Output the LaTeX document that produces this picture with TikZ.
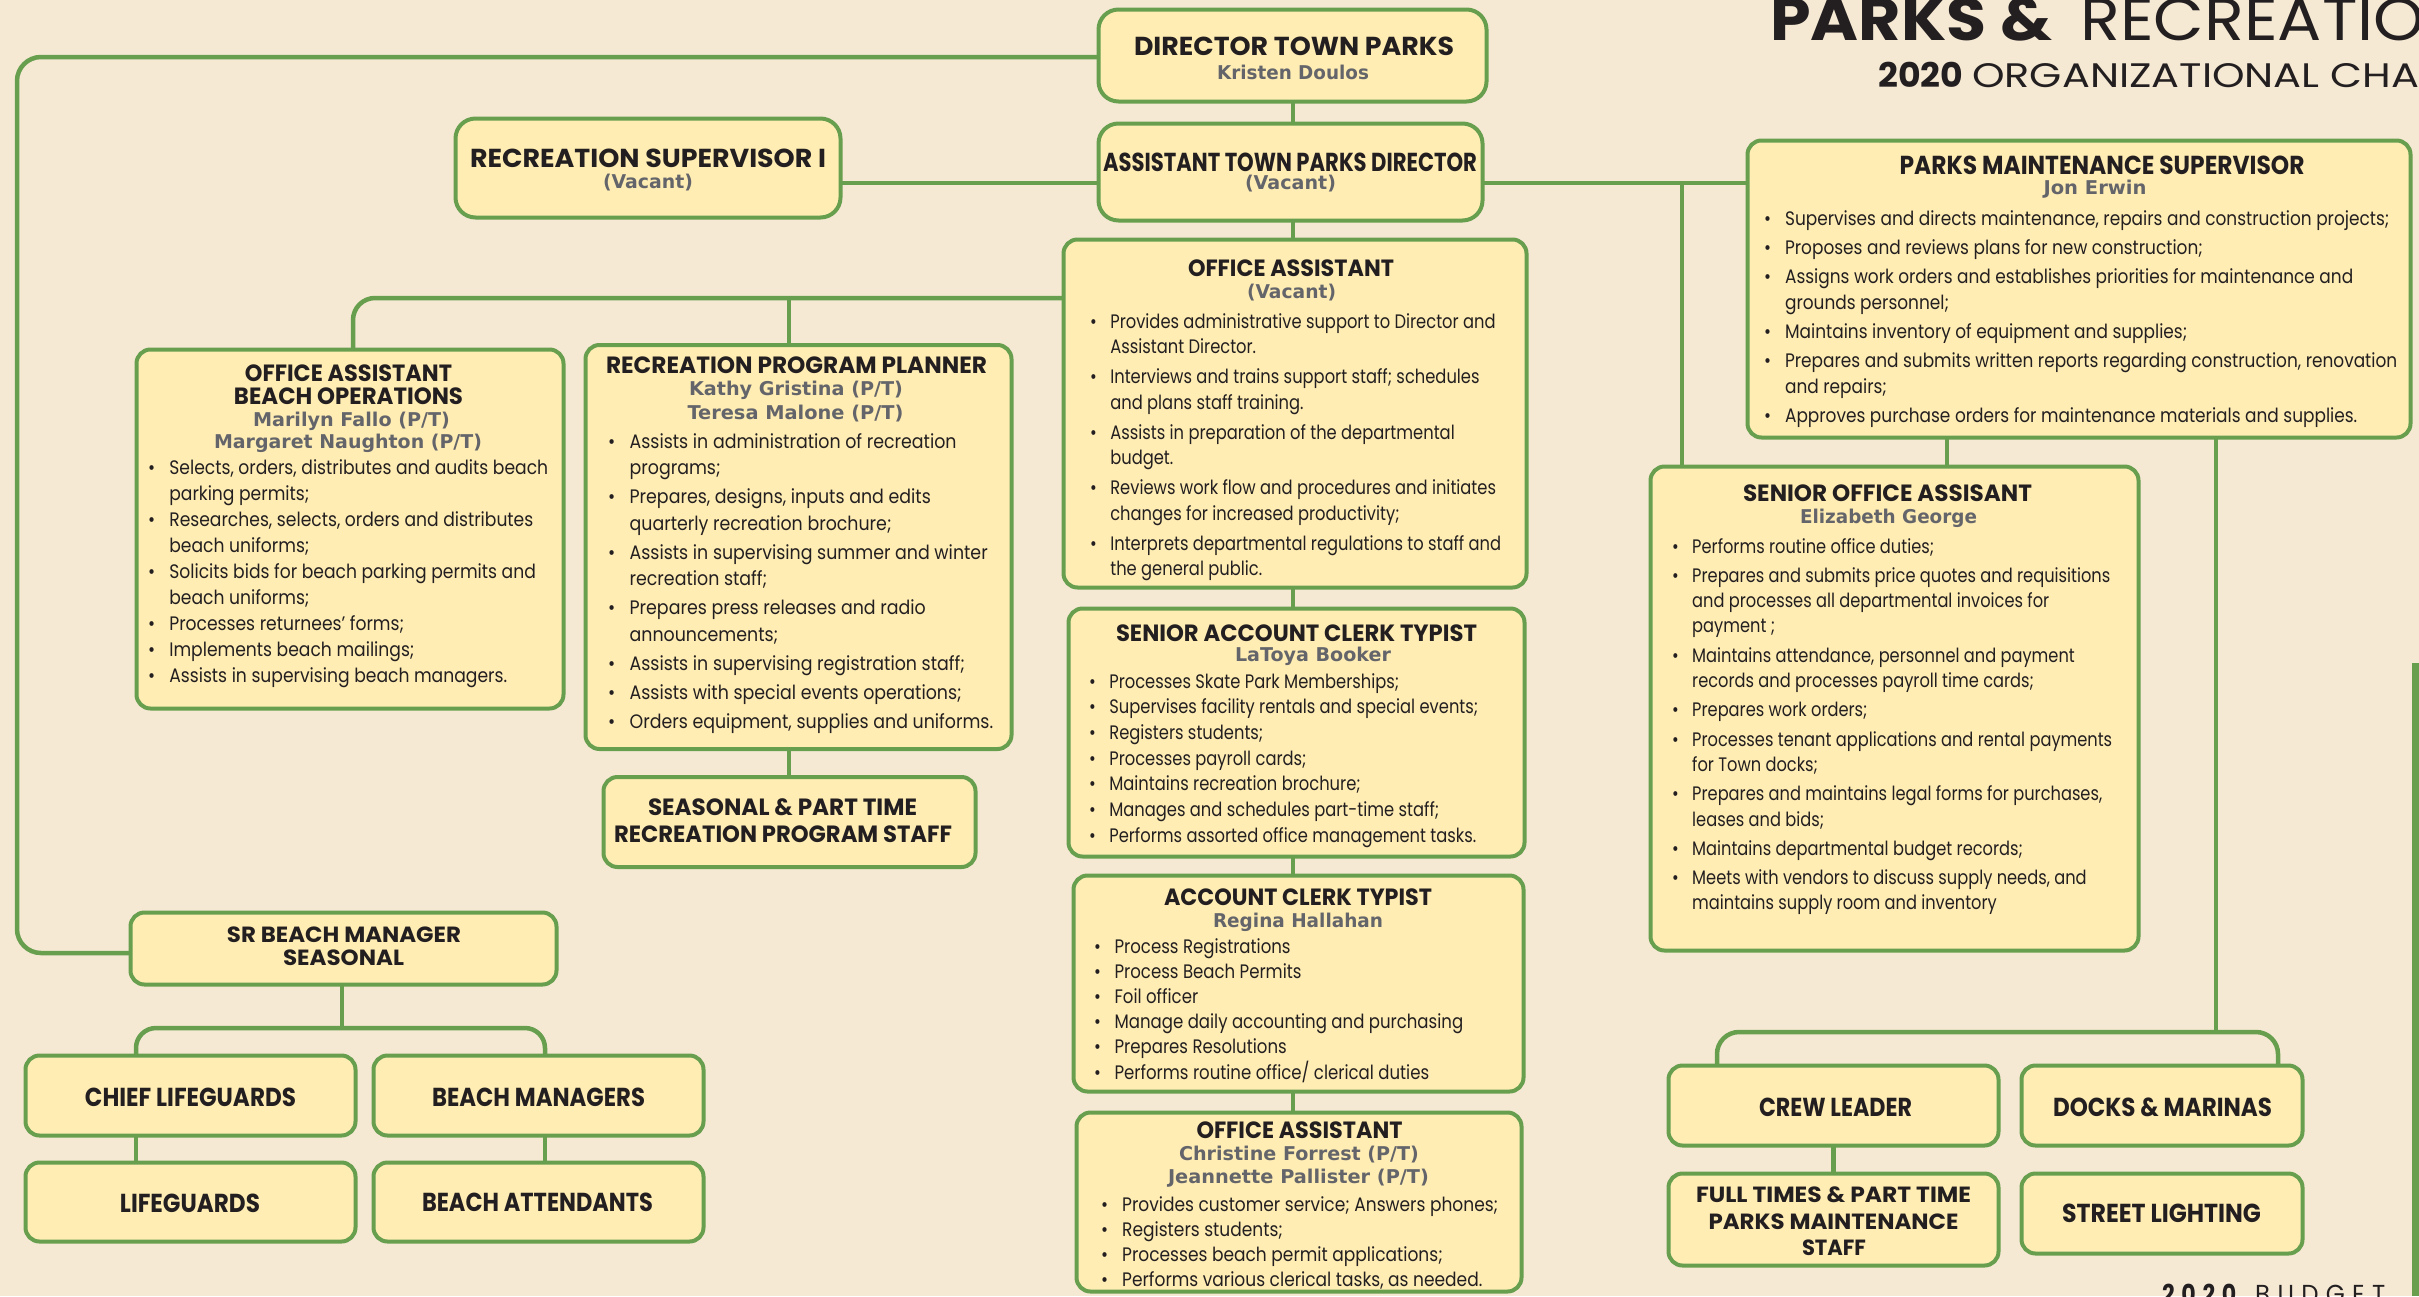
\documentclass[tikz,border=0pt]{standalone}
\usepackage{fontspec}
\usepackage{graphicx}
\setmainfont{Poppins}
\newfontfamily\bodyf{Poppins}
\newfontfamily\namef{DejaVu Sans}
\definecolor{bg}{HTML}{F5E9D4}
\definecolor{boxfill}{HTML}{FFEDB4}
\definecolor{grn}{HTML}{689F4E}
\definecolor{ink}{HTML}{231F20}
\definecolor{namegrey}{HTML}{64656A}
\newcommand\fit[2]{\resizebox{#1pt}{\height}{#2}}
\newcommand\blist[3]{\resizebox{#1pt}{\height}{\fontsize{19.5}{#2pt}\selectfont\begin{tabular}[t]{@{}c@{\hspace{16pt}}l@{}}#3\end{tabular}}}
\newlength\wA
\newlength\wB
\begin{document}
\settowidth\wA{\fontsize{60}{60}\selectfont RECREATIO}
\settowidth\wB{\fontsize{34}{34}\selectfont ORGANIZATIONAL CHA}
\begin{tikzpicture}[x=1pt,y=-1pt,
  box/.style={draw=grn, fill=boxfill, line width=4pt, rounded corners=14pt, inner sep=0pt, outer sep=0pt},
  bigbox/.style={box, rounded corners=20pt},
  conn/.style={draw=grn, line width=4.5pt},
  ttl/.style={inner sep=0pt, text=ink, font=\fontsize{23.5}{23.5}\selectfont\bfseries},
  ctl/.style={inner sep=0pt, text=ink, font=\fontsize{26}{26}\selectfont\bfseries},
  stl/.style={inner sep=0pt, text=ink, font=\fontsize{22}{22}\selectfont\bfseries},
  nm/.style={inner sep=0pt, text=namegrey, font=\namef\fontsize{19}{19}\selectfont\bfseries},
  bl/.style={inner sep=0pt, text=ink, anchor=base west, font=\bodyf},
]
\useasboundingbox (0,0) rectangle (2419,1296);
\fill[bg] (0,0) rectangle (2419,1296);
\begin{scope}
\clip (0,0) rectangle (2419,1296);

% ---------- title ----------
\pgfmathsetmacro\scA{345/\wA}
\pgfmathsetmacro\scB{447/\wB}
\node[anchor=base west, inner sep=0pt, text=ink] (title1) at (1770,40)
  {\fontsize{60}{60}\selectfont\fit{282}{\bfseries PARKS \&}\hspace{28pt}\scalebox{\scA}[1]{RECREATION}};
\node[anchor=base west, inner sep=0pt, text=ink] (title2) at (1878,87)
  {\fontsize{34}{34}\selectfont\fit{85}{\bfseries 2020}\hspace{9pt}\scalebox{\scB}[1]{ORGANIZATIONAL CHART}};
\node[anchor=base west, inner sep=0pt, text=ink] (budget) at (2162,1303)
  {\fontsize{26}{26}\selectfont\fit{74}{\bfseries\addfontfeature{LetterSpace=30}2020}\hspace{19pt}\fit{130}{\addfontfeature{LetterSpace=30}BUDGET}};

% ---------- boxes ----------
\node[bigbox, minimum width=388pt, minimum height=92pt] (dir) at (1292.5,55.5) {};
\node[bigbox, minimum width=384pt, minimum height=97pt] (asst) at (1290.5,172) {};
\node[bigbox, minimum width=385pt, minimum height=99pt] (recsup) at (648,168) {};
\node[box, minimum width=663pt, minimum height=297pt] (pms) at (2079,289) {};
\node[box, minimum width=463pt, minimum height=348pt] (oa) at (1295,413.5) {};
\node[box, minimum width=427pt, minimum height=359pt] (beach) at (350,529) {};
\node[box, minimum width=426pt, minimum height=404pt] (rpp) at (798.5,547) {};
\node[box, minimum width=372pt, minimum height=90pt] (seas) at (789.5,822) {};
\node[box, minimum width=456pt, minimum height=248pt] (sact) at (1296.5,732.5) {};
\node[box, minimum width=450pt, minimum height=216pt] (act) at (1298.5,983.5) {};
\node[box, minimum width=445pt, minimum height=179pt] (oa2) at (1299,1202) {};
\node[box, minimum width=488pt, minimum height=484pt] (soa) at (1894.5,708.5) {};
\node[box, minimum width=426pt, minimum height=72pt] (srbm) at (343.5,948.5) {};
\node[box, minimum width=330pt, minimum height=80pt] (chief) at (190.5,1095.5) {};
\node[box, minimum width=330pt, minimum height=80pt] (bmgr) at (538.5,1095.5) {};
\node[box, minimum width=330pt, minimum height=79pt] (lifeg) at (190.5,1202) {};
\node[box, minimum width=330pt, minimum height=79pt] (batt) at (538.5,1202) {};
\node[box, minimum width=330pt, minimum height=80pt] (crew) at (1833.5,1105.5) {};
\node[box, minimum width=281pt, minimum height=80pt] (docks) at (2162,1105.5) {};
\node[box, minimum width=330pt, minimum height=92pt] (full) at (1833.5,1219.5) {};
\node[box, minimum width=281pt, minimum height=80pt] (street) at (2162,1213.5) {};

% ---------- connectors ----------
\coordinate (ly) at (0,57);
\coordinate (lc) at (17,953);
\draw[conn, rounded corners=24pt] (dir.west |- ly) -| (lc) -- (srbm.west |- lc);
\coordinate (hy) at (0,183);
\draw[conn] (recsup.east |- hy) -- (asst.west |- hy);
\draw[conn] (asst.east |- hy) -- (pms.west |- hy);
\coordinate (j1) at (1682,183);
\draw[conn] (j1) -- (j1 |- soa.north);
\coordinate (j2) at (1947,0);
\draw[conn] (j2 |- pms.south) -- (j2 |- soa.north);
\coordinate (j3) at (2216,0);
\coordinate (bk) at (0,1032);
\draw[conn] (j3 |- pms.south) -- (j3 |- bk);
\coordinate (xcl) at (1717,0);
\coordinate (xcr) at (2278,0);
\draw[conn, rounded corners=22pt] (xcl |- crew.north) -- (xcl |- bk) -- (xcr |- bk) -- (xcr |- docks.north);
\draw[conn] (crew.south) -- (crew.south |- full.north);
\coordinate (xc) at (1293,0);
\draw[conn] (xc |- dir.south) -- (xc |- asst.north);
\draw[conn] (xc |- asst.south) -- (xc |- oa.north);
\draw[conn] (xc |- oa.south) -- (xc |- sact.north);
\draw[conn] (xc |- sact.south) -- (xc |- act.north);
\draw[conn] (xc |- act.south) -- (xc |- oa2.north);
\coordinate (oy) at (0,298);
\coordinate (xb) at (353,0);
\coordinate (xr) at (789,0);
\draw[conn, rounded corners=22pt] (oa.west |- oy) -- (xb |- oy) -- (xb |- beach.north);
\draw[conn] (xr |- oy) -- (xr |- rpp.north);
\draw[conn] (xr |- rpp.south) -- (xr |- seas.north);
\coordinate (sbk) at (0,1028);
\coordinate (xsl) at (136,0);
\coordinate (xsr) at (545,0);
\coordinate (xsm) at (342,0);
\draw[conn] (xsm |- srbm.south) -- (xsm |- sbk);
\draw[conn, rounded corners=20pt] (xsl |- chief.north) -- (xsl |- sbk) -- (xsr |- sbk) -- (xsr |- bmgr.north);
\draw[conn] (xsl |- chief.south) -- (xsl |- lifeg.north);
\draw[conn] (xsr |- bmgr.south) -- (xsr |- batt.north);
\fill[grn] (2412,663) rectangle (2419,1296);

% ---------- titles ----------
\node[ctl] (t-dir) at (1294,46) {\fit{320}{DIRECTOR TOWN PARKS}};
\node[nm] (n-dir) at (1293,72) {\fit{152}{Kristen Doulos}};
\node[ctl] (t-asst) at (1290,162) {\fit{374}{ASSISTANT TOWN PARKS DIRECTOR}};
\node[nm] (n-asst) at (1290.5,184) {\fit{91}{(Vacant)}};
\node[ctl] (t-recsup) at (648,158) {\fit{356}{RECREATION SUPERVISOR I}};
\node[nm] (n-recsup) at (648,183) {\fit{90}{(Vacant)}};
\node[ctl] (t-pms) at (2102,165) {\fit{405}{PARKS MAINTENANCE SUPERVISOR}};
\node[nm] (n-pms) at (2095,189) {\fit{103}{Jon Erwin}};
\node[ttl] (t-beach1) at (348.5,373) {\fit{207}{OFFICE ASSISTANT}};
\node[ttl] (t-beach2) at (348.5,396) {\fit{229}{BEACH OPERATIONS}};
\node[nm] (n-beach1) at (351.5,421) {\fit{197}{Marilyn Fallo (P/T)}};
\node[nm] (n-beach2) at (348,443) {\fit{268}{Margaret Naughton (P/T)}};
\node[ttl] (t-rpp) at (796.5,365) {\fit{381}{RECREATION PROGRAM PLANNER}};
\node[nm] (n-rpp1) at (796,390) {\fit{214}{Kathy Gristina (P/T)}};
\node[nm] (n-rpp2) at (795.5,414) {\fit{216}{Teresa Malone (P/T)}};
\node[ttl] (t-seas1) at (782.5,807) {\fit{269}{SEASONAL \& PART TIME}};
\node[ttl] (t-seas2) at (783,834) {\fit{338}{RECREATION PROGRAM STAFF}};
\node[ttl] (t-oa) at (1291,268) {\fit{206}{OFFICE ASSISTANT}};
\node[nm] (n-oa) at (1291.5,293) {\fit{89}{(Vacant)}};
\node[ttl] (t-sact) at (1296.5,633) {\fit{361}{SENIOR ACCOUNT CLERK TYPIST}};
\node[nm] (n-sact) at (1313,656) {\fit{156}{LaToya Booker}};
\node[ttl] (t-act) at (1298,897) {\fit{268}{ACCOUNT CLERK TYPIST}};
\node[nm] (n-act) at (1298,922) {\fit{170}{Regina Hallahan}};
\node[ttl] (t-oa2) at (1299.5,1130) {\fit{206}{OFFICE ASSISTANT}};
\node[nm] (n-oa2a) at (1299,1155) {\fit{240}{Christine Forrest (P/T)}};
\node[nm] (n-oa2b) at (1298.5,1178) {\fit{261}{Jeannette Pallister (P/T)}};
\node[ttl] (t-soa) at (1887.5,493) {\fit{289}{SENIOR OFFICE ASSISANT}};
\node[nm] (n-soa) at (1888.5,518) {\fit{177}{Elizabeth George}};
\node[stl] (t-srbm1) at (344,935) {\fit{234}{SR BEACH MANAGER}};
\node[stl] (t-srbm2) at (343.5,958) {\fit{121}{SEASONAL}};
\node[ctl] (t-chief) at (190.5,1097) {\fit{211}{CHIEF LIFEGUARDS}};
\node[ctl] (t-bmgr) at (538.5,1097) {\fit{213}{BEACH MANAGERS}};
\node[ctl] (t-lifeg) at (190,1203) {\fit{140}{LIFEGUARDS}};
\node[ctl] (t-batt) at (537.5,1202) {\fit{231}{BEACH ATTENDANTS}};
\node[ctl] (t-crew) at (1835.5,1107) {\fit{153}{CREW LEADER}};
\node[ctl] (t-docks) at (2162.5,1107) {\fit{219}{DOCKS \& MARINAS}};
\node[stl] (t-full1) at (1833.5,1195) {\fit{275}{FULL TIMES \& PART TIME}};
\node[stl] (t-full2) at (1833.5,1222) {\fit{250}{PARKS MAINTENANCE}};
\node[stl] (t-full3) at (1834,1248) {\fit{64}{STAFF}};
\node[ctl] (t-street) at (2161.5,1213) {\fit{199}{STREET LIGHTING}};

% ---------- bullet lists ----------
\node[bl] (b-beach) at (148,474) {\blist{400}{26.1}{%
• & Selects, orders, distributes and audits beach\\
  & parking permits;\\
• & Researches, selects, orders and distributes\\
  & beach uniforms;\\
• & Solicits bids for beach parking permits and\\
  & beach uniforms;\\
• & Processes returnees’ forms;\\
• & Implements beach mailings;\\
• & Assists in supervising beach managers.}};

\node[bl] (b-rpp) at (608,448) {\blist{385}{26.5}{%
• & Assists in administration of recreation\\
  & programs;\\[2.5pt]
• & Prepares, designs, inputs and edits\\
  & quarterly recreation brochure;\\[2.5pt]
• & Assists in supervising summer and winter\\
  & recreation staff;\\[2.5pt]
• & Prepares press releases and radio\\
  & announcements;\\[2.5pt]
• & Assists in supervising registration staff;\\[2.5pt]
• & Assists with special events operations;\\[2.5pt]
• & Orders equipment, supplies and uniforms.}};

\node[bl] (b-oa) at (1090,328) {\blist{411}{25.5}{%
• & Provides administrative support to Director and\\
  & Assistant Director.\\[4.5pt]
• & Interviews and trains support staff; schedules\\
  & and plans staff training.\\[4.5pt]
• & Assists in preparation of the departmental\\
  & budget.\\[4.5pt]
• & Reviews work flow and procedures and initiates\\
  & changes for increased productivity;\\[4.5pt]
• & Interprets departmental regulations to staff and\\
  & the general public.}};

\node[bl] (b-sact) at (1089,688) {\blist{389}{25.7}{%
• & Processes Skate Park Memberships;\\
• & Supervises facility rentals and special events;\\
• & Registers students;\\
• & Processes payroll cards;\\
• & Maintains recreation brochure;\\
• & Manages and schedules part-time staff;\\
• & Performs assorted office management tasks.}};

\node[bl] (b-act) at (1094,953) {\blist{369}{25.2}{%
• & Process Registrations\\
• & Process Beach Permits\\
• & Foil officer\\
• & Manage daily accounting and purchasing\\
• & Prepares Resolutions\\
• & Performs routine office/ clerical duties}};

\node[bl] (b-oa2) at (1101,1211) {\blist{397}{25}{%
• & Provides customer service; Answers phones;\\
• & Registers students;\\
• & Processes beach permit applications;\\
• & Performs various clerical tasks, as needed.}};

\node[bl] (b-soa) at (1672,553) {\blist{440}{25.3}{%
• & Performs routine office duties;\\[4pt]
• & Prepares and submits price quotes and requisitions\\
  & and processes all departmental invoices for\\
  & payment ;\\[4pt]
• & Maintains attendance, personnel and payment\\
  & records and processes payroll time cards;\\[4pt]
• & Prepares work orders;\\[4pt]
• & Processes tenant applications and rental payments\\
  & for Town docks;\\[4pt]
• & Prepares and maintains legal forms for purchases,\\
  & leases and bids;\\[4pt]
• & Maintains departmental budget records;\\[4pt]
• & Meets with vendors to discuss supply needs, and\\
  & maintains supply room and inventory}};

\node[bl] (b-pms) at (1764,225) {\blist{633}{25.7}{%
• & Supervises and directs maintenance, repairs and construction projects;\\[3.5pt]
• & Proposes and reviews plans for new construction;\\[3.5pt]
• & Assigns work orders and establishes priorities for maintenance and\\
  & grounds personnel;\\[3.5pt]
• & Maintains inventory of equipment and supplies;\\[3.5pt]
• & Prepares and submits written reports regarding construction, renovation\\
  & and repairs;\\[3.5pt]
• & Approves purchase orders for maintenance materials and supplies.}};
\end{scope}
\end{tikzpicture}
\end{document}
